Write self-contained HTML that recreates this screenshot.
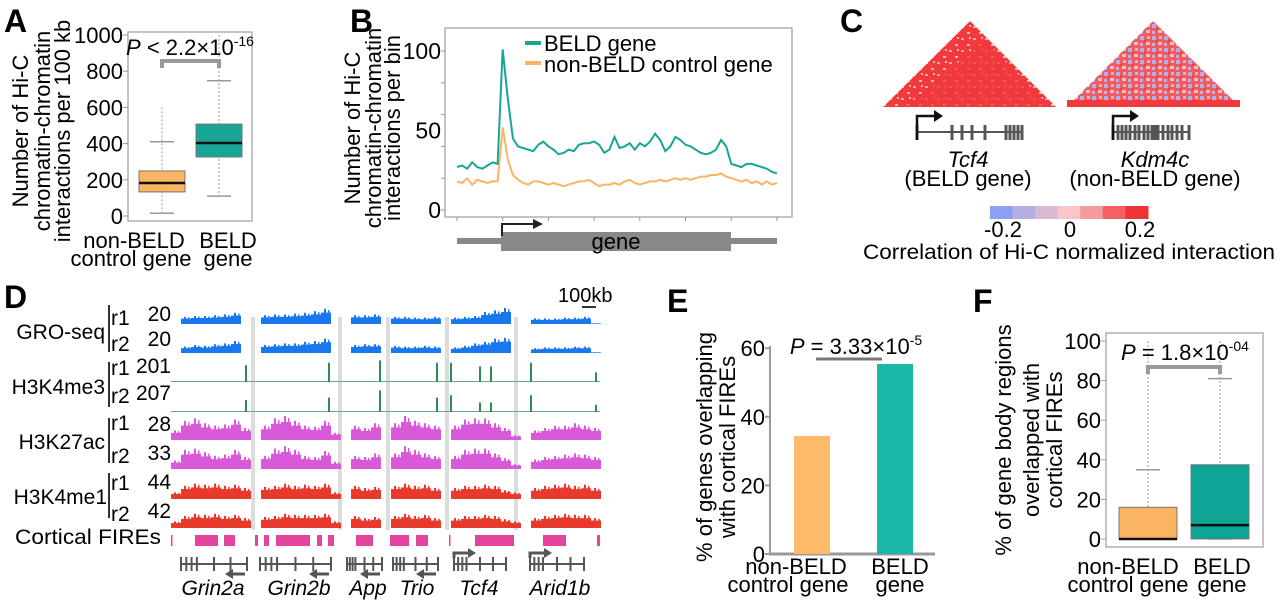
<!DOCTYPE html>
<html><head><meta charset="utf-8">
<style>
html,body{margin:0;padding:0;background:#fff;}
svg{display:block;font-family:"Liberation Sans",Arial,sans-serif;}
</style></head>
<body>
<svg id="fig" width="1280" height="601" viewBox="0 0 1280 601" xmlns="http://www.w3.org/2000/svg">
<defs>
<pattern id="patL" width="12" height="12" patternUnits="userSpaceOnUse">
<rect width="12" height="12" fill="#f03a3c"/><rect x="1" y="2" width="3" height="2" fill="#f6a8b0"/><rect x="7" y="8" width="3" height="2" fill="#f4c0c4"/><rect x="9" y="1" width="2" height="2" fill="#f4b4bc"/>
</pattern>
<pattern id="patR" width="12" height="12" patternUnits="userSpaceOnUse">
<rect width="12" height="12" fill="#f05a60"/><rect x="0" y="0" width="4" height="4" fill="#aab2ee"/><rect x="6" y="6" width="4" height="3" fill="#f4c0c8"/><rect x="7" y="0" width="3" height="3" fill="#f6b0b8"/><rect x="0" y="7" width="3" height="3" fill="#c8b0dc"/><rect x="4" y="4" width="2" height="2" fill="#f03a3c"/>
</pattern>
</defs>

<!-- Panel A -->
<g>
<text x="4" y="32" font-size="32" font-weight="bold">A</text>
<rect x="128" y="32" width="124" height="189" fill="none" stroke="#b0b0b0" stroke-width="1.5"/>
<g id="aTicks"></g>
<g id="aBoxes"></g>
<g font-size="22" text-anchor="middle">
<text transform="translate(28,131) rotate(-90)">Number of Hi-C</text>
<text transform="translate(50,131) rotate(-90)">chromatin-chromatin</text>
<text transform="translate(70,131) rotate(-90)">interactions per 100 kb</text>
</g>
<text x="190" y="55" font-size="22" text-anchor="middle"><tspan font-style="italic">P</tspan> &lt; 2.2×10<tspan font-size="14" dy="-9">-16</tspan></text>
<g font-size="22" text-anchor="middle">
<text x="134" y="248">non-BELD</text><text x="131" y="266">control gene</text>
<text x="228" y="248">BELD</text><text x="228" y="266">gene</text>
</g>
</g>

<!-- Panel B -->
<g>
<text x="350" y="32" font-size="32" font-weight="bold">B</text>
<rect x="445" y="28" width="347" height="189" fill="none" stroke="#b0b0b0" stroke-width="1.5"/>
<g id="bTicks"></g>
<g id="bLines"></g>
<g font-size="22" text-anchor="middle">
<text transform="translate(360,128) rotate(-90)">Number of Hi-C</text>
<text transform="translate(381,128) rotate(-90)">chromatin-chromatin</text>
<text transform="translate(400,128) rotate(-90)">interactions per bin</text>
</g>
<g>
<line x1="525" y1="43" x2="541" y2="43" stroke="#17a596" stroke-width="4"/>
<text x="544" y="51" font-size="22">BELD gene</text>
<line x1="525" y1="63" x2="541" y2="63" stroke="#fbb562" stroke-width="4"/>
<text x="544" y="72" font-size="22">non-BELD control gene</text>
</g>
<g>
<rect x="457" y="238" width="320" height="6" fill="#888"/>
<rect x="501" y="232" width="230" height="19" fill="#888"/>
<text x="616" y="249" font-size="22" text-anchor="middle">gene</text>
<path d="M502,236 V224 H534" fill="none" stroke="#222" stroke-width="2"/>
<polygon points="533,219 543,224 533,229" fill="#222"/>
</g>
</g>

<!-- Panel C -->
<g>
<text x="840" y="32" font-size="32" font-weight="bold">C</text>
<polygon points="883,107 970,21 1056,107" fill="url(#patL)"/>
<polygon points="905,107 985,40 1050,107" fill="#f03a3c" opacity="0.75"/>
<polygon points="1067,107 1153,21 1240,107" fill="url(#patR)"/>
<rect x="1067" y="100" width="173" height="7" fill="#f03a3c"/>
<g id="cGenes"></g>
<g font-size="22" text-anchor="middle">
<text x="968" y="167" font-style="italic">Tcf4</text><text x="968" y="186">(BELD gene)</text>
<text x="1155" y="167" font-style="italic">Kdm4c</text><text x="1155" y="186">(non-BELD gene)</text>
</g>
<g id="cBar"></g>
<g font-size="22" text-anchor="middle">
<text x="1003" y="237">-0.2</text><text x="1070" y="237">0</text><text x="1140" y="237">0.2</text>
</g>
<text x="1069" y="259" font-size="21" text-anchor="middle" textLength="412" lengthAdjust="spacingAndGlyphs">Correlation of Hi-C normalized interaction</text>
</g>

<!-- Panel D -->
<g>
<text x="4" y="308" font-size="32" font-weight="bold">D</text>
<g id="dSeps"></g>
<g id="dTracks"></g>
<g id="dFires"></g>
<g id="dGenes"></g>
<g font-size="21">
<text x="105" y="339" text-anchor="end">GRO-seq</text>
<text x="105" y="394" text-anchor="end">H3K4me3</text>
<text x="105" y="449" text-anchor="end">H3K27ac</text>
<text x="107" y="504" text-anchor="end">H3K4me1</text>
<text x="161" y="544" text-anchor="end" textLength="146" lengthAdjust="spacingAndGlyphs">Cortical FIREs</text>
</g>
<g stroke="#333" stroke-width="2">
<line x1="109" y1="305" x2="109" y2="352"/><line x1="109" y1="362" x2="109" y2="407"/>
<line x1="109" y1="418" x2="109" y2="463"/><line x1="109" y1="473" x2="109" y2="518"/>
</g>
<g font-size="21">
<text x="111" y="325">r1</text><text x="111" y="351">r2</text>
<text x="111" y="375">r1</text><text x="111" y="403">r2</text>
<text x="111" y="430">r1</text><text x="111" y="463">r2</text>
<text x="111" y="490">r1</text><text x="111" y="521">r2</text>
</g>
<g font-size="21" text-anchor="end">
<text x="171" y="321">20</text><text x="171" y="346">20</text>
<text x="171" y="373">201</text><text x="171" y="400">207</text>
<text x="171" y="431">28</text><text x="171" y="460">33</text>
<text x="171" y="489">44</text><text x="171" y="518">42</text>
</g>
<text x="558" y="302" font-size="20">100kb</text>
<line x1="582" y1="307" x2="596" y2="307" stroke="#333" stroke-width="2"/>
<g font-size="21" font-style="italic" text-anchor="middle">
<text x="213" y="595">Grin2a</text><text x="299" y="595">Grin2b</text><text x="368" y="595">App</text>
<text x="417" y="595">Trio</text><text x="479" y="595">Tcf4</text><text x="560" y="595">Arid1b</text>
</g>
</g>

<!-- Panel E -->
<g>
<text x="667" y="312" font-size="32" font-weight="bold">E</text>
<g id="eChart"></g>
<g font-size="22" text-anchor="middle">
<text transform="translate(712,447) rotate(-90)">% of genes overlapping</text>
<text transform="translate(735,447) rotate(-90)">with cortical FIREs</text>
</g>
<text x="856" y="354" font-size="22" text-anchor="middle"><tspan font-style="italic">P</tspan> = 3.33×10<tspan font-size="14" dy="-9">-5</tspan></text>
<g font-size="22" text-anchor="middle">
<text x="796" y="574">non-BELD</text><text x="788" y="592">control gene</text>
<text x="900" y="574">BELD</text><text x="900" y="592">gene</text>
</g>
</g>

<!-- Panel F -->
<g>
<text x="973" y="312" font-size="32" font-weight="bold">F</text>
<rect x="1106" y="333" width="157" height="214" fill="none" stroke="#b0b0b0" stroke-width="1.5"/>
<g id="fChart"></g>
<g font-size="22" text-anchor="middle">
<text transform="translate(1011,440) rotate(-90)">% of gene body regions</text>
<text transform="translate(1039,440) rotate(-90)">overlapped with</text>
<text transform="translate(1062,440) rotate(-90)">cortical FIREs</text>
</g>
<text x="1185" y="360" font-size="22" text-anchor="middle"><tspan font-style="italic">P</tspan> = 1.8×10<tspan font-size="14" dy="-9">-04</tspan></text>
<g font-size="22" text-anchor="middle">
<text x="1128" y="574">non-BELD</text><text x="1128" y="592">control gene</text>
<text x="1222" y="574">BELD</text><text x="1222" y="592">gene</text>
</g>
</g>
</svg>

<script>
// ---------- data ----------
const aTickVals = [0, 200, 400, 600, 800, 1000];
const aMin = [15, 110];
const aQ1 = [133, 326];
const aMed = [182, 403];
const aQ3 = [249, 508];
const aMax = [410, 747];
const aOutTop = [600, 1000];

const bTickVals = [0, 50, 100];
const bBeld = [27,28,26,30,27,26,28,30,29,101,70,45,40,39,38,37,41,43,40,38,35,36,38,37,41,42,42,43,41,36,38,46,39,40,42,38,42,40,43,48,44,37,40,46,44,41,40,38,36,35,36,38,44,40,29,28,27,29,29,28,27,26,24,23];
const bCtrl = [18,17,20,16,19,18,17,18,18,52,32,22,19,17,16,18,18,17,16,17,16,15,16,17,18,18,19,17,15,16,16,17,16,18,19,17,16,17,18,18,19,18,19,20,19,20,19,20,21,21,22,22,23,21,20,19,18,19,17,18,16,18,16,17];

const cBarColors = ["#8c9ff2","#b4aee2","#d8bad6","#f8c6c8","#f79a9c","#f26264","#f03434"];

const dGro1 = [0,.45,.5,.5,.55,.6,.7,0,0,.55,.6,.6,.65,.7,.8,.95,0,0,.55,.55,.6,0,.45,.45,.4,.4,.45,0,.4,.45,.5,.75,.85,1,0,0,.35,.35,.35,.4,.4,.45,.05];
const dGro2 = [0,.4,.5,.45,.55,.6,.75,0,0,.5,.55,.6,.6,.7,.75,.9,0,0,.5,.55,.55,0,.45,.4,.4,.45,.4,0,.35,.45,.6,.7,.9,.95,0,0,.3,.35,.35,.35,.4,.4,.05];
const dK27a = [.4,.8,.9,.7,.6,.65,.85,.5,0,.6,.9,1,.8,.6,.55,.8,.3,0,.6,.5,.7,0,.7,1,.8,.7,.6,0,.6,.85,.9,.9,.7,.5,.2,0,.4,.5,.6,.6,.7,.6,.5];
const dK27b = [.35,.8,.85,.7,.55,.6,.8,.5,0,.55,.85,.95,.8,.55,.5,.75,.3,0,.55,.5,.65,0,.65,.95,.8,.65,.55,0,.55,.8,.85,.85,.65,.45,.2,0,.4,.5,.55,.6,.65,.6,.5];
const dK4a = [.3,.6,.7,.65,.7,.6,.65,.5,0,.55,.6,.7,.6,.65,.6,.7,.3,0,.6,.5,.55,0,.6,.7,.6,.65,.5,0,.5,.6,.6,.65,.6,.4,.3,0,.5,.6,.65,.7,.6,.65,.5];
const dK4b = [.3,.55,.65,.6,.65,.55,.6,.45,0,.5,.55,.65,.6,.6,.6,.65,.3,0,.55,.45,.5,0,.55,.65,.55,.6,.45,0,.45,.55,.55,.6,.55,.4,.3,0,.45,.55,.6,.65,.6,.6,.45];
const dK3Pos = [75,158,209,266,280,309,320,360,425];
const dK3r1 = [.7,.8,.9,.8,.8,.65,.65,.8,.4];
const dK3r2 = [.5,.6,.9,.6,.7,.4,.4,.7,.3];
const dSepPos = [82,169,217,276,345];
const dFireStart = [0,24,53,84,93,105,146,157,185,219,245,278,304,372,426];
const dFireEnd = [1,47,64,87,98,139,151,163,202,238,257,279,343,395,429];
const dGeneStart = [10,89,176,222,283,359];
const dGeneEnd = [76,160,211,267,335,413];
const dGeneStrand = [-1,-1,-1,-1,1,1];

const eTickVals = [0, 20, 40, 60];
const eVals = [34.4, 55.4];

const fTickVals = [0, 20, 40, 60, 80, 100];
const fMin = [0, 0];
const fQ1 = [0, 0];
const fMed = [0, 7];
const fQ3 = [16, 37.5];
const fMax = [35, 81];
const fOutTop = [100, 100];

// ---------- helpers ----------
const NS = "http://www.w3.org/2000/svg";
function mk(tag, attrs, parent) {
  const e = document.createElementNS(NS, tag);
  for (const k in attrs) e.setAttribute(k, attrs[k]);
  parent.appendChild(e);
  return e;
}
const colOrange = "#fbb562", colTeal = "#17a596";

function boxplot(g, xc, w, y, lo, q1, med, q3, hi, outTop, color, name) {
  const grp = mk("g", {}, g);
  
  
  mk("line", {x1:xc, x2:xc, y1:y(outTop), y2:y(lo), stroke:"#bbb", "stroke-width":1.5, "stroke-dasharray":"2,2"}, grp);
  mk("line", {x1:xc-12, x2:xc+12, y1:y(lo), y2:y(lo), stroke:"#999", "stroke-width":1.5}, grp);
  mk("line", {x1:xc-12, x2:xc+12, y1:y(hi), y2:y(hi), stroke:"#999", "stroke-width":1.5}, grp);
  mk("rect", {x:xc-w/2, y:y(q3), width:w, height:Math.max(1,y(q1)-y(q3)), fill:color, stroke:"#777", "stroke-width":1}, grp);
  mk("line", {x1:xc-w/2, x2:xc+w/2, y1:y(med), y2:y(med), stroke:"#111", "stroke-width":2.5}, grp);
}

// ---------- Panel A ----------
(function(){
  const y = v => 216 - v * 0.181;
  const t = document.getElementById("aTicks");
  aTickVals.forEach(v => {
    mk("line", {x1:123, x2:128, y1:y(v), y2:y(v), stroke:"#999"}, t);
    const tx = mk("text", {x:123, y:y(v)+8, "font-size":22, "text-anchor":"end"}, t);
    tx.textContent = v;
  });
  const g = document.getElementById("aBoxes");
  const xs = [162, 219];
  const cols = [colOrange, colTeal];
  for (let i = 0; i < 2; i++) boxplot(g, xs[i], 46, y, aMin[i], aQ1[i], aMed[i], aQ3[i], aMax[i], aOutTop[i], cols[i], i ? 'box-beld' : 'box-control');
  const br = mk("path", {d:`M${xs[0]},68 V61 H${xs[1]} V68`, fill:"none", stroke:"#999", "stroke-width":4}, g);
  
  
})();

// ---------- Panel B ----------
(function(){
  const y = v => 210 - v * 1.59;
  const n = bBeld.length;
  const x = i => 457 + i * (320 / (n - 1));
  const t = document.getElementById("bTicks");
  [0,20,40,60,80,100].forEach(v => mk("line", {x1:441, x2:445, y1:y(v), y2:y(v), stroke:"#999"}, t));
  bTickVals.forEach(v => {
    const tx = mk("text", {x:441, y:y(v)+8, "font-size":23, "text-anchor":"end"}, t);
    tx.textContent = v;
  });
  for (let k = 0; k < 8; k++) { const xx = 457 + k * 45.7; mk("line", {x1:xx, x2:xx, y1:217, y2:221, stroke:"#999"}, t); }
  const g = document.getElementById("bLines");
  const mkLine = (arr, col, name) => {
    const p = mk("polyline", {points: arr.map((v,i) => x(i).toFixed(1)+","+y(v).toFixed(1)).join(" "), fill:"none", stroke:col, "stroke-width":2}, g);
    
    
  };
  mkLine(bCtrl, "#fbb562", 'line-control');
  mkLine(bBeld, "#17a596", 'line-beld');
})();

// ---------- Panel C ----------
(function(){
  const g = document.getElementById("cGenes");
  const gene = (x0, x1, exons, arrX) => {
    mk("line", {x1:x0, x2:x1, y1:132, y2:132, stroke:"#555", "stroke-width":2}, g);
    exons.forEach(e => mk("rect", {x:e-1.5, y:125, width:3, height:15, fill:"#555"}, g));
    mk("path", {d:`M${x0},140 V116 H${arrX}`, fill:"none", stroke:"#111", "stroke-width":2.5}, g);
    mk("polygon", {points:`${arrX},110 ${arrX+9},116 ${arrX},122`, fill:"#111"}, g);
  };
  gene(917, 1023, [917, 952, 962, 972, 985, 1006, 1010, 1014, 1018, 1022], 934);
  gene(1113, 1190, [1113,1118,1122,1126,1130,1135,1139,1144,1148,1152,1155,1158,1163,1168,1172,1177,1182,1189], 1130);
  const b = document.getElementById("cBar");
  const w = 158 / cBarColors.length;
  cBarColors.forEach((c, i) => {
    const r = mk("rect", {x:990 + i*w, y:206, width:w+0.5, height:13, fill:c}, b);
    
    
  });
})();

// ---------- Panel D ----------
(function(){
  const X0 = 171;
  const gx = p => X0 + p;
  const seps = document.getElementById("dSeps");
  dSepPos.forEach(p => mk("rect", {x:gx(p)-2, y:317, width:4, height:213, fill:"#dcdcdc"}, seps));
  const tr = document.getElementById("dTracks");
  const rows = [
    {arr:dGro1, base:324, h:16, col:"#1a78ee"},
    {arr:dGro2, base:353, h:16, col:"#1a78ee"},
    {arr:dK27a, base:440, h:24, col:"#d85ad8"},
    {arr:dK27b, base:469, h:24, col:"#d85ad8"},
    {arr:dK4a, base:499, h:22, col:"#e83a2c"},
    {arr:dK4b, base:528, h:22, col:"#e83a2c"}
  ];
  rows.forEach(r => {
    const grp = mk("g", {fill:r.col}, tr);
    
    
    r.arr.forEach((v, i) => {
      if (v <= 0) return;
      mk("rect", {x:gx(i*10), y:r.base - v*r.h*0.75, width:10, height:v*r.h*0.75}, grp);
      mk("rect", {x:gx(i*10)+3, y:r.base - v*r.h, width:2, height:v*r.h}, grp);
      mk("rect", {x:gx(i*10)+7, y:r.base - v*r.h*0.92, width:1.5, height:v*r.h*0.92}, grp);
    });
  });
  [[dK3r1, 382], [dK3r2, 412]].forEach(([arr, base]) => {
    const grp = mk("g", {fill:"#2e8b57"}, tr);
    
    
    mk("rect", {x:gx(0), y:base-1, width:429, height:1, fill:"#6aa884"}, grp);
    dK3Pos.forEach((p, i) => mk("rect", {x:gx(p)-1, y:base - arr[i]*24, width:2, height:arr[i]*24}, grp));
  });
  const f = document.getElementById("dFires");
  dFireStart.forEach((s, i) => {
    const r = mk("rect", {x:gx(s), y:535, width:Math.max(1.5, dFireEnd[i]-s), height:11, fill:"#e2449e"}, f);
    
    
  });
  const gg = document.getElementById("dGenes");
  dGeneStart.forEach((s, i) => {
    const e = dGeneEnd[i];
    const grp = mk("g", {}, gg);
    
    
    mk("line", {x1:gx(s), x2:gx(e), y1:564, y2:564, stroke:"#555", "stroke-width":2}, grp);
    for (let k = 0; k <= 6; k++) {
      const ex = s + (e - s) * (k < 4 ? k*0.08 : 0.5 + (k-4)*0.25);
      mk("rect", {x:gx(ex)-1, y:557, width:2, height:14, fill:"#555"}, grp);
    }
    if (dGeneStrand[i] < 0) {
      mk("line", {x1:gx(e)-2, x2:gx(e)-14, y1:574, y2:574, stroke:"#555", "stroke-width":3}, grp);
      mk("polygon", {points:`${gx(e)-14},569 ${gx(e)-22},574 ${gx(e)-14},579`, fill:"#555"}, grp);
    } else {
      mk("path", {d:`M${gx(s)},558 V553 H${gx(s)+14}`, fill:"none", stroke:"#555", "stroke-width":3}, grp);
      mk("polygon", {points:`${gx(s)+14},548 ${gx(s)+22},553 ${gx(s)+14},558`, fill:"#555"}, grp);
    }
  });
})();

// ---------- Panel E ----------
(function(){
  const y = v => 554 - v * 3.43;
  const g = document.getElementById("eChart");
  mk("line", {x1:770, x2:770, y1:346, y2:555, stroke:"#999", "stroke-width":2}, g);
  mk("line", {x1:769, x2:935, y1:554, y2:554, stroke:"#999", "stroke-width":3}, g);
  eTickVals.forEach(v => {
    mk("line", {x1:765, x2:770, y1:y(v), y2:y(v), stroke:"#999", "stroke-width":2}, g);
    const t = mk("text", {x:765, y:y(v)+8, "font-size":22, "text-anchor":"end"}, g);
    t.textContent = v;
  });
  const xs = [794, 877], cols = ["#fdbb6a", "#1ab8aa"];
  eVals.forEach((v, i) => {
    const r = mk("rect", {x:xs[i], y:y(v), width:36, height:554 - y(v), fill:cols[i]}, g);
    
    
  });
  mk("line", {x1:816, x2:882, y1:359, y2:359, stroke:"#777", "stroke-width":3}, g);
})();

// ---------- Panel F ----------
(function(){
  const y = v => 539 - v * 1.98;
  const g = document.getElementById("fChart");
  fTickVals.forEach(v => {
    mk("line", {x1:1101, x2:1106, y1:y(v), y2:y(v), stroke:"#999"}, g);
    const t = mk("text", {x:1101, y:y(v)+8, "font-size":22, "text-anchor":"end"}, g);
    t.textContent = v;
  });
  const xs = [1148, 1220], cols = [colOrange, "#0fa596"];
  for (let i = 0; i < 2; i++) boxplot(g, xs[i], 58, y, fMin[i], fQ1[i], fMed[i], fQ3[i], fMax[i], fOutTop[i], cols[i], i ? 'box-beld' : 'box-control');
  const br = mk("path", {d:`M${xs[0]},374 V367 H${xs[1]} V374`, fill:"none", stroke:"#999", "stroke-width":4}, g);
  
  
})();
</script>
</body></html>
